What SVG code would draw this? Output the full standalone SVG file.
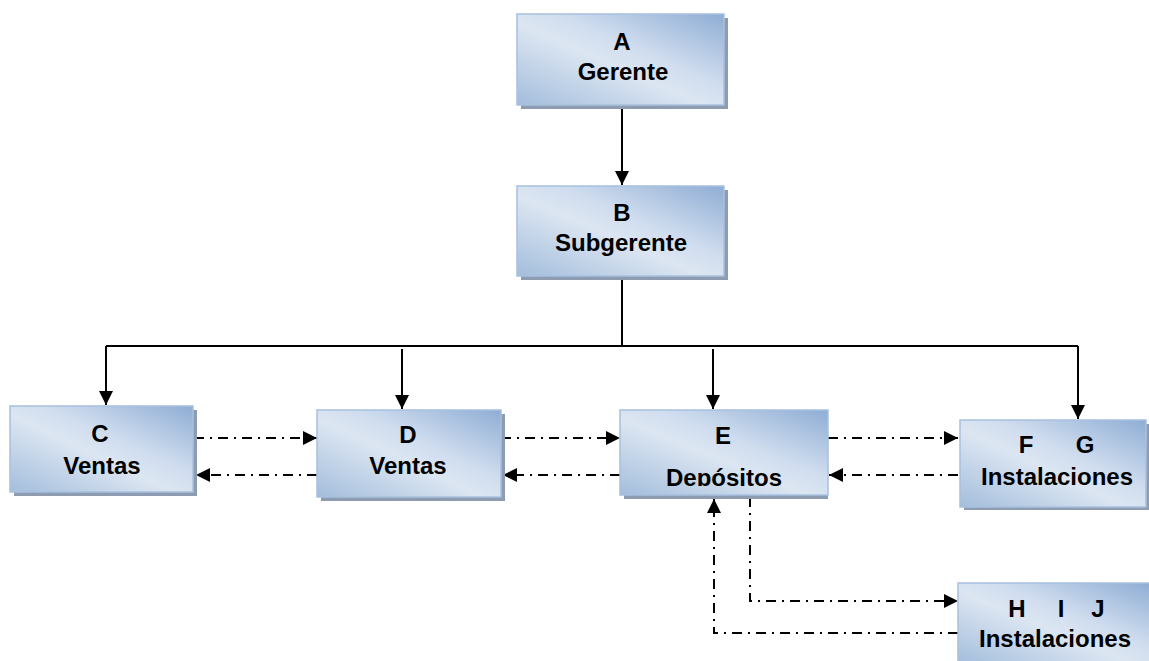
<svg xmlns="http://www.w3.org/2000/svg" width="1149" height="661" viewBox="0 0 1149 661">
<defs>
<linearGradient id="g" x1="0" y1="1" x2="1" y2="0">
<stop offset="0" stop-color="#a3bddc"/>
<stop offset="0.45" stop-color="#dce6f2"/>
<stop offset="0.6" stop-color="#d0ddef"/>
<stop offset="1" stop-color="#8eadd4"/>
</linearGradient>
<marker id="ah" viewBox="0 0 14 14" refX="14" refY="7" markerWidth="14" markerHeight="14" markerUnits="userSpaceOnUse" orient="auto">
<path d="M0,0 L14,7 L0,14 Z" fill="#000"/>
</marker>
<clipPath id="clipE"><rect x="620" y="410" width="208" height="76"/></clipPath>
</defs>
<style>
.shadow{fill:#8d9cb0}
.box{fill:url(#g);stroke:#a8c0de;stroke-width:1.5}
.t{font-family:"Liberation Sans",Arial,sans-serif;font-weight:bold;font-size:24px;fill:#000;text-anchor:middle}
.solid{fill:none;stroke:#000;stroke-width:2}
.dd{fill:none;stroke:#000;stroke-width:2;stroke-dasharray:10,6,2,6}
</style>
<rect width="1149" height="661" fill="#fff"/>

<g id="connectors">
<path class="solid" d="M622,105 L622,185" marker-end="url(#ah)"/>
<path class="solid" d="M622,276 L622,346"/>
<path class="solid" d="M106,346 L1078,346"/>
<path class="solid" d="M106,346 L106,405" marker-end="url(#ah)"/>
<path class="solid" d="M402,349 L402,409" marker-end="url(#ah)"/>
<path class="solid" d="M713,349 L713,409" marker-end="url(#ah)"/>
<path class="solid" d="M1078,346 L1078,419" marker-end="url(#ah)"/>
<path class="dd" d="M194,438 L317,438" marker-end="url(#ah)"/>
<path class="dd" d="M317,475 L196,475" marker-end="url(#ah)"/>
<path class="dd" d="M501,438 L620,438" marker-end="url(#ah)"/>
<path class="dd" d="M620,475 L503,475" marker-end="url(#ah)"/>
<path class="dd" d="M828,438 L958,438" marker-end="url(#ah)"/>
<path class="dd" d="M958,475 L829,475" marker-end="url(#ah)"/>
<path class="dd" d="M750,497 L750,601 L958,601" marker-end="url(#ah)"/>
<path class="dd" d="M958,633 L714,633 L714,499" marker-end="url(#ah)"/>
</g>

<g id="nodeA">
<rect class="shadow" x="521" y="18" width="207" height="91"/>
<rect class="box" x="517" y="14" width="207" height="91"/>
<text class="t" x="622" y="50">A</text>
<text class="t" x="623" y="80">Gerente</text>
</g>
<g id="nodeB">
<rect class="shadow" x="521" y="190" width="207" height="90"/>
<rect class="box" x="517" y="186" width="207" height="90"/>
<text class="t" x="622" y="221">B</text>
<text class="t" x="621" y="251">Subgerente</text>
</g>
<g id="nodeC">
<rect class="shadow" x="14" y="410" width="183" height="86"/>
<rect class="box" x="10" y="406" width="183" height="86"/>
<text class="t" x="100" y="442">C</text>
<text class="t" x="102" y="474">Ventas</text>
</g>
<g id="nodeD">
<rect class="shadow" x="321" y="414" width="184" height="87"/>
<rect class="box" x="317" y="410" width="184" height="87"/>
<text class="t" x="408" y="443">D</text>
<text class="t" x="408" y="474">Ventas</text>
</g>
<g id="nodeE">
<rect class="shadow" x="624" y="414" width="204" height="85"/>
<rect class="box" x="620" y="410" width="208" height="85"/>
<text class="t" x="723" y="444">E</text>
<text class="t" x="724" y="486" clip-path="url(#clipE)">Depósitos</text>
</g>
<g id="nodeFG">
<rect class="shadow" x="964" y="424" width="185" height="86"/>
<rect class="box" x="960" y="420" width="186" height="87"/>
<text class="t" x="1026" y="453">F</text>
<text class="t" x="1085" y="453">G</text>
<text class="t" x="1057" y="485">Instalaciones</text>
</g>
<g id="nodeHIJ">
<rect class="box" x="958" y="583" width="192" height="80"/>
<text class="t" x="1017" y="617">H</text>
<text class="t" x="1061" y="617">I</text>
<text class="t" x="1098" y="617">J</text>
<text class="t" x="1055" y="647">Instalaciones</text>
</g>
</svg>
